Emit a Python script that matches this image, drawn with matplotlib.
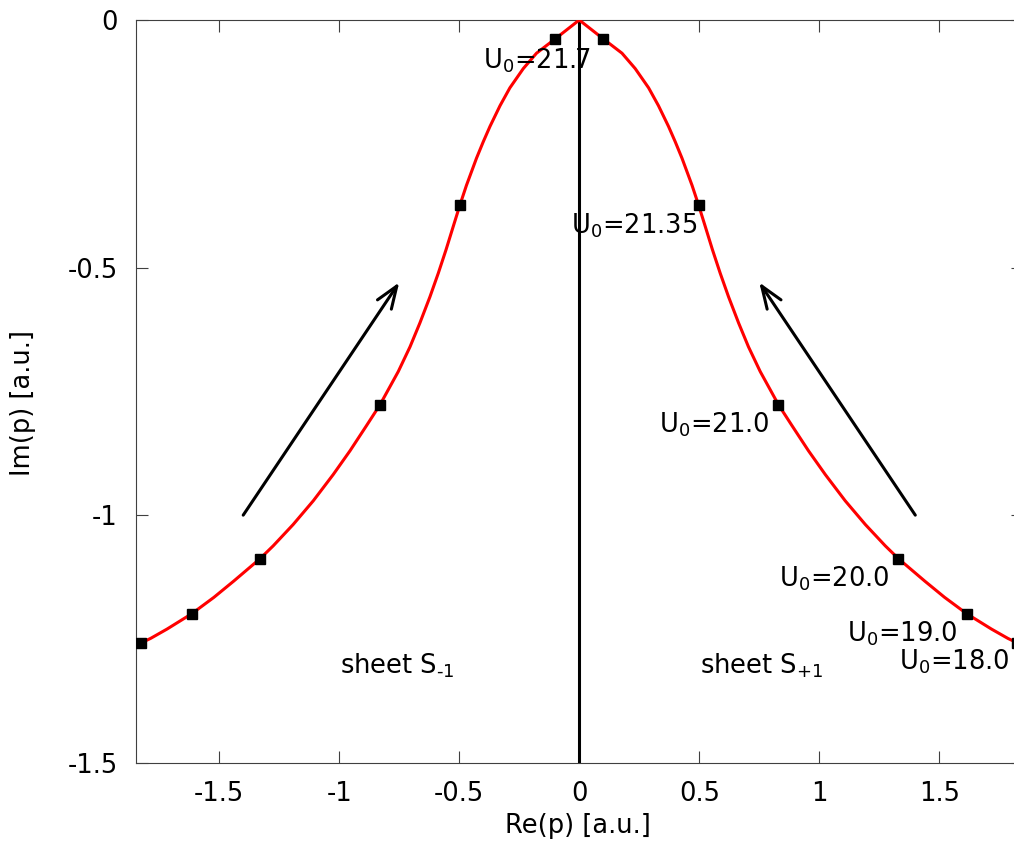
import numpy as np
import matplotlib
matplotlib.use("Agg")
import matplotlib.pyplot as plt

# curve (left branch, x <= 0); right branch is its mirror
curve_x_left = [-1.848, -1.825, -1.786, -1.717, -1.614, -1.522, -1.439, -1.330,
                -1.275, -1.192, -1.108, -1.025, -0.955, -0.886, -0.830, -0.796,
                -0.754, -0.705, -0.664, -0.622, -0.587, -0.555, -0.525, -0.497,
                -0.470, -0.428, -0.400, -0.372, -0.330, -0.289, -0.233, -0.178,
                -0.100, 0.0]
curve_y_left = [-1.262, -1.258, -1.249, -1.230, -1.199, -1.166, -1.133, -1.088,
                -1.062, -1.019, -0.971, -0.918, -0.870, -0.819, -0.777, -0.747,
                -0.710, -0.660, -0.612, -0.559, -0.511, -0.464, -0.417, -0.3735,
                -0.334, -0.279, -0.246, -0.215, -0.173, -0.137, -0.098, -0.067,
                -0.038, 0.0]

# marked points (U0 values)
mark_x = [-1.825, -1.614, -1.330, -0.830, -0.497, -0.100,
          0.100, 0.497, 0.830, 1.330, 1.614, 1.825]
mark_y = [-1.258, -1.199, -1.088, -0.777, -0.3735, -0.038,
          -0.038, -0.3735, -0.777, -1.088, -1.199, -1.258]

labels = ["U$_0$=21.7", "U$_0$=21.35", "U$_0$=21.0", "U$_0$=20.0", "U$_0$=19.0", "U$_0$=18.0"]
label_x = [-0.401, -0.034, 0.333, 0.833, 1.117, 1.332]
label_y = [-0.0975, -0.4307, -0.834, -1.144, -1.255, -1.311]

sheet_labels = ["sheet S$_{\\text{-}1}$", "sheet S$_{+1}$"]
sheet_x = [-0.997, 0.503]
sheet_y = [-1.319, -1.319]

# arrows (start -> tip)
arrow_start = [(-1.40, -1.00), (1.40, -1.00)]
arrow_tip = [(-0.75, -0.53), (0.75, -0.53)]

curve_x = curve_x_left + [-v for v in curve_x_left[::-1][1:]]
curve_y = curve_y_left + curve_y_left[::-1][1:]

fs = 18.5
fig = plt.figure(figsize=(10.14, 8.41), dpi=100)
ax = fig.add_axes([0.1338, 0.0931, 0.8749, 0.8831])

ax.plot([0, 0], [-1.5, 0], color="black", lw=2.2, zorder=2)
ax.plot(curve_x, curve_y, color="red", lw=2.2, zorder=3, solid_joinstyle="round")
ax.plot(mark_x, mark_y, "s", color="black", ms=7, zorder=4)

for s, t in zip(arrow_start, arrow_tip):
    ax.annotate("", xy=t, xytext=s,
                arrowprops=dict(arrowstyle="->,head_length=0.8,head_width=0.3",
                                color="black", lw=2.2, mutation_scale=20,
                                shrinkA=0, shrinkB=0))

for txt, x, y in zip(labels, label_x, label_y):
    ax.text(x, y, txt, fontsize=fs, ha="left", va="baseline", zorder=5)
for txt, x, y in zip(sheet_labels, sheet_x, sheet_y):
    ax.text(x, y, txt, fontsize=fs, ha="left", va="baseline", zorder=5)

ax.set_xlim(-1.848, 1.848)
ax.set_ylim(-1.5, 0)
xt = [-1.5, -1, -0.5, 0, 0.5, 1, 1.5]
yt = [0, -0.5, -1, -1.5]
ax.set_xticks(xt)
ax.set_xticklabels([f"{v:g}" for v in xt])
ax.set_yticks(yt)
ax.set_yticklabels([f"{v:g}" for v in yt])
ax.tick_params(direction="in", length=8.4, width=0.8, colors="#404040",
               labelcolor="black", labelsize=fs, top=True, right=True)
ax.tick_params(axis="x", pad=13)
ax.tick_params(axis="y", pad=13)
for sp in ax.spines.values():
    sp.set_color("#404040")
    sp.set_linewidth(0.8)

ax.set_xlabel("Re(p) [a.u.]", fontsize=fs)
ax.set_ylabel("Im(p) [a.u.]", fontsize=fs)
ax.xaxis.set_label_coords(0.4987, -0.0857)
ax.yaxis.set_label_coords(-0.127, 0.4845)
for lbl in (ax.xaxis.label, ax.yaxis.label):
    lbl.set_va("center")

fig.savefig("out.png", dpi=100)
